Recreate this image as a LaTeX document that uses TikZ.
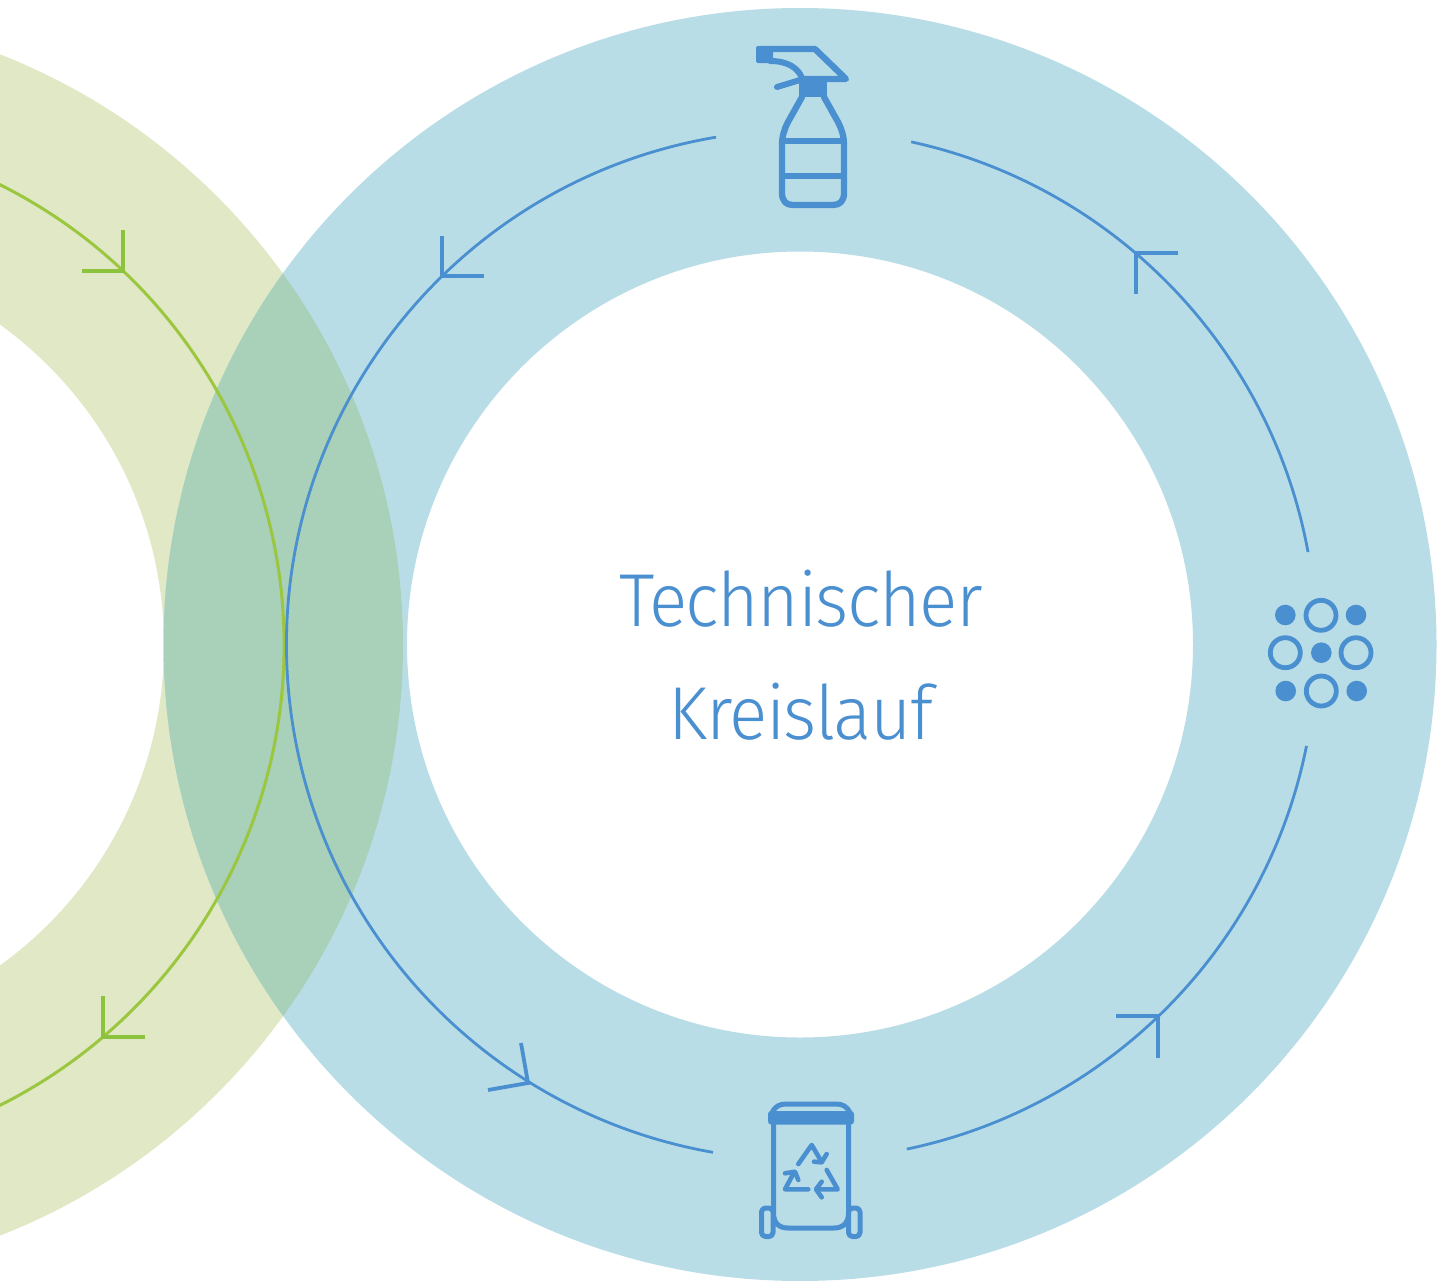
\documentclass[tikz,border=0pt]{standalone}
\usepackage{fontspec}
\setmainfont[FakeStretch=0.95,LetterSpace=-2]{Fira Sans Light}
\usetikzlibrary{positioning}
\definecolor{ringblue}{HTML}{B9DDE7}
\definecolor{ringgreen}{HTML}{E1E8C5}
\definecolor{ringmix}{HTML}{A9D0B8}
\definecolor{lineblue}{HTML}{4A8FD0}
\definecolor{linegreen}{HTML}{9AC73F}
\definecolor{barbgreencol}{HTML}{8DC23C}
\begin{document}
\begin{tikzpicture}[x=1pt,y=1pt,
    ring/.style={even odd rule},
    flow/.style={draw=lineblue, line width=2.8pt},
    barb/.style={draw=lineblue, line width=3.8pt, line join=miter},
    flowgreen/.style={draw=linegreen, line width=3pt},
    barbgreen/.style={draw=barbgreencol, line width=4pt, line join=miter},
    icon/.style={draw=lineblue, line width=6.3pt, line join=round, line cap=round},
    binline/.style={draw=lineblue, line width=5pt, line join=round, line cap=round},
    title/.style={text=lineblue, align=center, font=\fontsize{75}{113}\selectfont}]
    \clip (0,0) rectangle (1446,-1280);
    \fill[white] (0,0) rectangle (1446,-1280);
    \coordinate (cblue) at (800,-644.5);
    \coordinate (cflow) at (801.5,-645);
    \coordinate (cgreen) at (-231,-645);
    \fill[ringgreen, ring] (cgreen) circle (634) (cgreen) circle (395);
    \fill[ringblue, ring] (cblue) circle (636.5) (cblue) circle (393);
    \begin{scope}
        \clip (cgreen) circle (634);
        \fill[ringmix] (cblue) circle (636.5);
    \end{scope}
    \draw[flowgreen] (cgreen) ++(66:515) arc[start angle=66, end angle=-66, radius=515];
    \foreach \ax/\ay/\tx/\ty/\bx/\by in {123/230/123/271/82/271, 103/996/103/1037/145/1037}
        \draw[barbgreen] (\ax,-\ay) -- (\tx,-\ty) -- (\bx,-\by);
    \foreach \from/\to in {99.55/260.1, -78.2/-11.3, 10.4/77.7}
        \draw[flow] (cflow) ++(\from:515) arc[start angle=\from, end angle=\to, radius=515];
    \foreach \ax/\ay/\tx/\ty/\bx/\by in {442/236/442/276/484/276, 521/1043/528/1083/488/1090, 1116/1016/1158/1016/1158/1058, 1178/253/1136/253/1136/294}
        \draw[barb] (\ax,-\ay) -- (\tx,-\ty) -- (\bx,-\by);
    \node[title] (label) at (801,-655) {Technischer\\Kreislauf};
    % spray bottle
    \fill[lineblue, rounded corners=2pt] (756,-46) rectangle (773,-63);
    \fill[lineblue] (799,-77) rectangle (827,-97);
    \draw[icon] (760,-49) -- (815,-49) -- (846,-79) -- (804,-79);
    \draw[icon, line width=6pt] (770,-61) .. controls (788,-61) and (798,-68) .. (802,-78);
    \draw[icon, line width=6pt] (777,-87) -- (800,-80);
    \draw[icon] (802,-97) -- (788,-122) .. controls (784,-130) and (782,-136) .. (782,-146)
        -- (782,-193) .. controls (782,-201) and (786,-205) .. (793,-205)
        -- (833,-205) .. controls (840,-205) and (844,-201) .. (844,-193)
        -- (844,-146) .. controls (844,-136) and (842,-130) .. (838,-122) -- (824,-97);
    \draw[icon, line cap=butt] (782,-141) -- (844,-141);
    \draw[icon, line cap=butt] (782,-176) -- (844,-176);
    % material dots
    \foreach \x/\y in {1285.3/615, 1356/615, 1321.3/652.7, 1285.7/691, 1356.7/691}
        \fill[lineblue] (\x,-\y) circle (10.3);
    \foreach \x/\y in {1321/615.3, 1285.3/652.7, 1356/652.7, 1321.3/691}
        \draw[lineblue, line width=4.8pt] (\x,-\y) circle (15);
    % recycling bin
    \draw[binline, rounded corners=4pt] (761.5,-1208) rectangle (773,-1236.5);
    \draw[binline, rounded corners=4pt] (848.5,-1208) rectangle (860,-1236.5);
    \draw[binline] (773.5,-1120) -- (773.5,-1213) .. controls (773.5,-1223) and (779,-1228) .. (788,-1228)
        -- (834,-1228) .. controls (843,-1228) and (848.5,-1223) .. (848.5,-1213) -- (848.5,-1120);
    \draw[binline] (772,-1113) .. controls (775,-1106) and (780,-1104) .. (786,-1104)
        -- (836,-1104) .. controls (842,-1104) and (847,-1106) .. (850,-1113);
    \fill[lineblue, rounded corners=3pt] (768,-1111) rectangle (854,-1124.5);
    \foreach \pts in {{(798.3,-1164) -- (811.7,-1145) -- (821.7,-1162)},
        {(826.7,-1170) -- (837.7,-1189.3) -- (816.7,-1189.3)},
        {(808.3,-1189.3) -- (785,-1189.3) -- (794,-1172.5)},
        {(826.7,-1154) -- (821.7,-1162.3) -- (814,-1161.7)},
        {(821.7,-1181.7) -- (816,-1189.3) -- (821.7,-1197.3)},
        {(785,-1173.3) -- (795,-1171.7) -- (798.3,-1180)}}
        \draw[binline, line width=4.6pt] \pts;
\end{tikzpicture}
\end{document}
